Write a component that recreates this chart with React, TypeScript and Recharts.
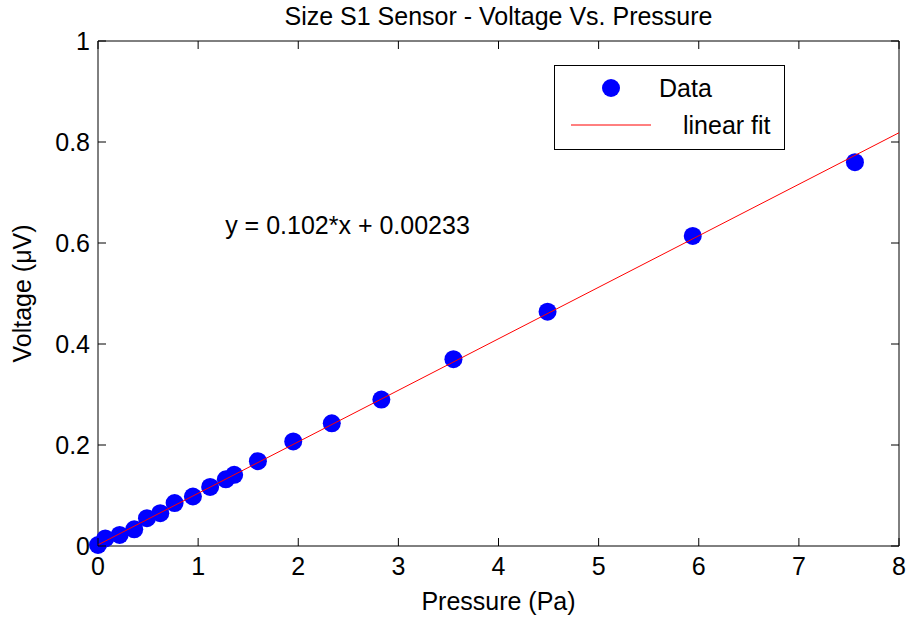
import { ScatterChart, Scatter, XAxis, YAxis, ReferenceDot } from 'recharts';

const pressure = [0, 0.073, 0.216, 0.362, 0.489, 0.622, 0.765, 0.948, 1.12, 1.277, 1.36, 1.597, 1.95, 2.335, 2.83, 3.55, 4.49, 5.94, 7.56];
const voltage = [0.002, 0.015, 0.022, 0.033, 0.055, 0.065, 0.085, 0.098, 0.117, 0.132, 0.141, 0.168, 0.207, 0.243, 0.29, 0.37, 0.464, 0.614, 0.76];

// endpoints of y = 0.102*x + 0.00233
const fitX = [0, 8];
const fitY = [0.00233, 0.81833];

const xTicks = [0, 1, 2, 3, 4, 5, 6, 7, 8];
const yTicks = [0, 0.2, 0.4, 0.6, 0.8, 1];

const points = pressure.map((p, i) => ({ x: p, y: voltage[i] }));
const fitLine = fitX.map((p, i) => ({ x: p, y: fitY[i] }));

const FONT = '"Liberation Sans", Arial, sans-serif';
const FS = 25;

const BottomTick = (props: any) => {
    const { x, y, payload } = props;
    return (
        <g>
            <line x1={x} x2={x} y1={y} y2={y - 8} stroke="#000" />
            <text x={x} y={y + 29} textAnchor="middle" fontSize={FS} fontFamily={FONT} fill="#000">
                {payload.value}
            </text>
        </g>
    );
};

const TopTick = (props: any) => {
    const { x, y } = props;
    return <line x1={x} x2={x} y1={y} y2={y + 8} stroke="#000" />;
};

const LeftTick = (props: any) => {
    const { x, y, payload } = props;
    return (
        <g>
            <line x1={x} x2={x + 8} y1={y} y2={y} stroke="#000" />
            <text x={x - 8} y={y + 9} textAnchor="end" fontSize={FS} fontFamily={FONT} fill="#000">
                {payload.value}
            </text>
        </g>
    );
};

const RightTick = (props: any) => {
    const { x, y } = props;
    return <line x1={x} x2={x - 8} y1={y} y2={y} stroke="#000" />;
};

const Dot = (props: any) => <circle cx={props.cx} cy={props.cy} r={9} fill="#0000ff" />;

export default function App() {
    return (
        <div style={{ position: 'absolute', left: 0, top: 0, width: 911, height: 618, background: '#fff', fontFamily: FONT }}>
            <ScatterChart width={911} height={618} margin={{ top: 40, right: 11, bottom: 0, left: 0 }}>
                <XAxis
                    xAxisId="b"
                    type="number"
                    dataKey="x"
                    domain={[0, 8]}
                    ticks={xTicks}
                    height={72}
                    tickSize={0}
                    tickMargin={0}
                    tick={BottomTick}
                    axisLine={{ stroke: '#000' }}
                    label={{ value: 'Pressure (Pa)', position: 'insideBottom', offset: 8, fontSize: FS, fontFamily: FONT, fill: '#000' }}
                />
                <XAxis
                    xAxisId="t"
                    orientation="top"
                    type="number"
                    dataKey="x"
                    domain={[0, 8]}
                    ticks={xTicks}
                    height={1}
                    tickSize={0}
                    tickMargin={0}
                    tick={TopTick}
                    axisLine={{ stroke: '#000' }}
                />
                <YAxis
                    yAxisId="l"
                    type="number"
                    dataKey="y"
                    domain={[0, 1]}
                    ticks={yTicks}
                    width={98}
                    tickSize={0}
                    tickMargin={0}
                    tick={LeftTick}
                    axisLine={{ stroke: '#000' }}
                    label={{ value: 'Voltage (μV)', angle: -90, position: 'insideLeft', offset: 22, fontSize: FS, fontFamily: FONT, fill: '#000', style: { textAnchor: 'middle' } }}
                />
                <YAxis
                    yAxisId="r"
                    orientation="right"
                    type="number"
                    dataKey="y"
                    domain={[0, 1]}
                    ticks={yTicks}
                    width={1}
                    tickSize={0}
                    tickMargin={0}
                    tick={RightTick}
                    axisLine={{ stroke: '#000' }}
                />
                <Scatter
                    name="Data"
                    data={points}
                    xAxisId="b"
                    yAxisId="l"
                    shape={Dot}
                    isAnimationActive={false}
                />
                <Scatter
                    name="linear fit"
                    data={fitLine}
                    xAxisId="t"
                    yAxisId="r"
                    line={{ stroke: '#ff0000', strokeWidth: 1 }}
                    shape={() => <g />}
                    isAnimationActive={false}
                />
                <ReferenceDot
                    x={1.27}
                    y={0.634}
                    xAxisId="b"
                    yAxisId="l"
                    r={0}
                    fill="none"
                    stroke="none"
                    label={(p: any) => (
                        <text x={p.viewBox.cx ?? p.viewBox.x} y={(p.viewBox.cy ?? p.viewBox.y) + 8} fontSize={FS} fontFamily={FONT} fill="#000">
                            y = 0.102*x + 0.00233
                        </text>
                    )}
                />
            </ScatterChart>
            <div style={{ position: 'absolute', left: 98, width: 801, top: 4, textAlign: 'center', fontSize: FS, lineHeight: `${FS}px`, color: '#000' }}>
                Size S1 Sensor - Voltage Vs. Pressure
            </div>
            <svg style={{ position: 'absolute', left: 554, top: 65 }} width={231} height={85}>
                <rect x={0.5} y={0.5} width={230} height={84} fill="#fff" stroke="#000" />
                <circle cx={57} cy={23} r={9} fill="#0000ff" />
                <text x={105} y={32} fontSize={FS} fontFamily={FONT} fill="#000">Data</text>
                <line x1={17} x2={97} y1={60} y2={60} stroke="#ff0000" />
                <text x={129} y={69} fontSize={FS} fontFamily={FONT} fill="#000">linear fit</text>
            </svg>
        </div>
    );
}
